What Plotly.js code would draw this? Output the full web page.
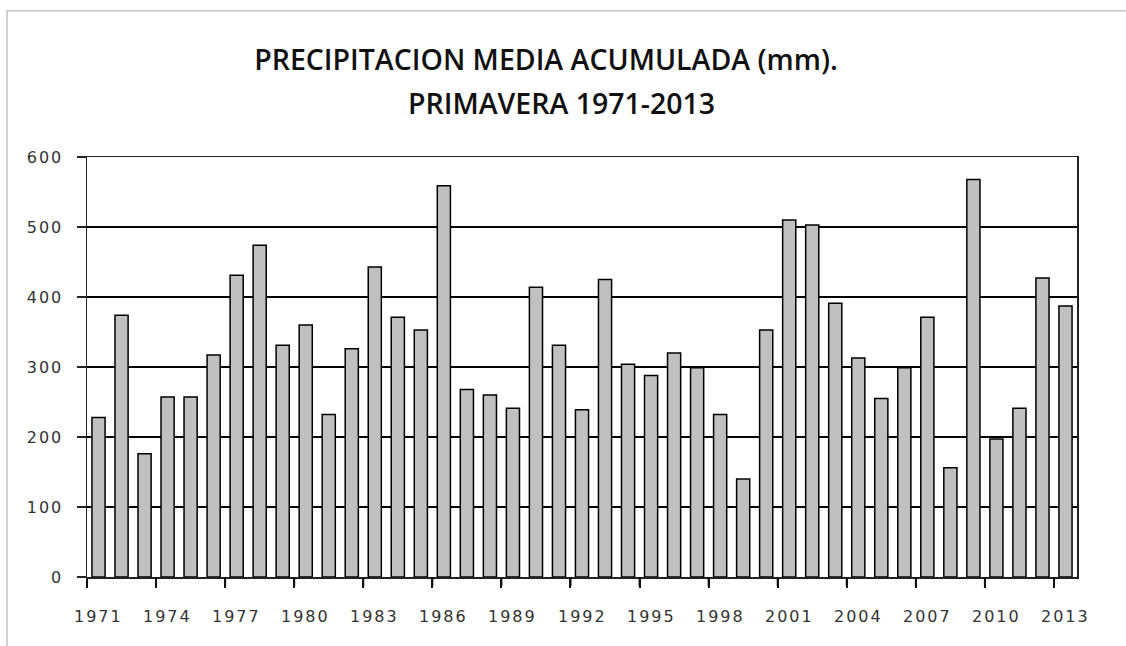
<!DOCTYPE html>
<html>
<head>
<meta charset="utf-8">
<script src="https://cdn.plot.ly/plotly-3.0.1.min.js"></script>
<style>
html, body { margin: 0; padding: 0; background: #fff; }
#chart { width: 1126px; height: 646px; }
.ytick text { letter-spacing: 2px; }
</style>
</head>
<body>
<div id="chart"></div>
<script>
const years = [1971,1972,1973,1974,1975,1976,1977,1978,1979,1980,
  1981,1982,1983,1984,1985,1986,1987,1988,1989,1990,
  1991,1992,1993,1994,1995,1996,1997,1998,1999,2000,
  2001,2002,2003,2004,2005,2006,2007,2008,2009,2010,
  2011,2012,2013];
const precipitation = [228,374,176,257,257,317,431,474,331,360,
  232,326,443,371,353,559,268,260,241,414,
  331,239,425,304,288,320,299,232,140,353,
  510,503,391,313,255,299,371,156,568,197,
  241,427,387];
const labelYears = [1971,1974,1977,1980,1983,1986,1989,1992,1995,1998,2001,2004,2007,2010,2013];
const groupBoundaries = [1970.5,1973.5,1976.5,1979.5,1982.5,1985.5,1988.5,1991.5,1994.5,1997.5,2000.5,2003.5,2006.5,2009.5,2012.5];
const yTicks = [0,100,200,300,400,500,600];
const titleLine1 = 'PRECIPITACION MEDIA ACUMULADA (mm).';
const titleLine2 = 'PRIMAVERA 1971-2013';

const trace = {
  type: 'bar',
  x: years,
  y: precipitation,
  width: 0.57,
  marker: { color: '#c0c0c0', line: { color: '#000', width: 1.5 } },
  hoverinfo: 'x+y'
};

const tickFont = { family: 'DejaVu Sans, sans-serif', size: 16, color: '#333' };
const titleFont = { family: 'Open Sans, sans-serif', size: 28.5, weight: 600, color: '#111' };
const xRange = [1970.5, 2013.5];
const plotH = 419;
const toPaperX = v => (v - xRange[0]) / (xRange[1] - xRange[0]);

const yearAnnotations = labelYears.map(yr => ({
  text: String(yr),
  xref: 'x', yref: 'paper',
  x: yr, y: -39 / plotH,
  xanchor: 'center', yanchor: 'middle',
  showarrow: false,
  font: tickFont
}));

const boundaryTicks = groupBoundaries.map(b => ({
  type: 'line', xref: 'paper', yref: 'paper',
  x0: toPaperX(b), x1: toPaperX(b),
  y0: 0, y1: -9 / plotH,
  line: { color: '#111', width: 2 },
  layer: 'above'
}));

const layout = {
  width: 1126,
  height: 646,
  margin: { l: 87, r: 49, t: 157, b: 69 },
  paper_bgcolor: '#fff',
  plot_bgcolor: '#fff',
  showlegend: false,
  title: {
    text: titleLine1,
    x: 546/1126, xanchor: 'center',
    y: 1 - 60/646, yanchor: 'middle', yref: 'container',
    font: titleFont
  },
  annotations: [{
    text: titleLine2,
    xref: 'paper', yref: 'paper',
    x: (561-87)/990, y: 1 + (157-103)/plotH,
    xanchor: 'center', yanchor: 'middle',
    showarrow: false,
    font: titleFont
  }].concat(yearAnnotations),
  xaxis: {
    range: xRange,
    tickmode: 'array',
    tickvals: groupBoundaries,
    showticklabels: false,
    ticks: 'outside', ticklen: 9, tickwidth: 2, tickcolor: '#111',
    showgrid: false,
    zeroline: false,
    showline: true, mirror: true, linecolor: '#222', linewidth: 1.5
  },
  yaxis: {
    range: [0, 600],
    tickmode: 'array',
    tickvals: yTicks,
    ticktext: yTicks.map(String),
    ticks: 'outside', ticklen: 9, tickwidth: 1.5, tickcolor: '#222',
    showgrid: true, gridcolor: '#000', gridwidth: 1.5,
    zeroline: false,
    showline: true, mirror: true, linecolor: '#222', linewidth: 1.5,
    tickfont: tickFont,
    ticklabelstandoff: 10
  },
  shapes: [{
    type: 'rect', xref: 'paper', yref: 'paper',
    x0: (7-87)/990, x1: 1.1,
    y0: -0.5, y1: 1 + (157-11)/plotH,
    line: { color: '#d0d0d0', width: 2 },
    fillcolor: 'rgba(0,0,0,0)',
    layer: 'below'
  }].concat(boundaryTicks),
  bargap: 0.43
};

Plotly.newPlot('chart', [trace], layout, { displayModeBar: false, staticPlot: true }).then(() => {
  document.querySelectorAll('.annotation-text').forEach(t => {
    if (/^\d{4}$/.test(t.textContent)) t.style.letterSpacing = '2px';
  });
});
</script>
</body>
</html>
